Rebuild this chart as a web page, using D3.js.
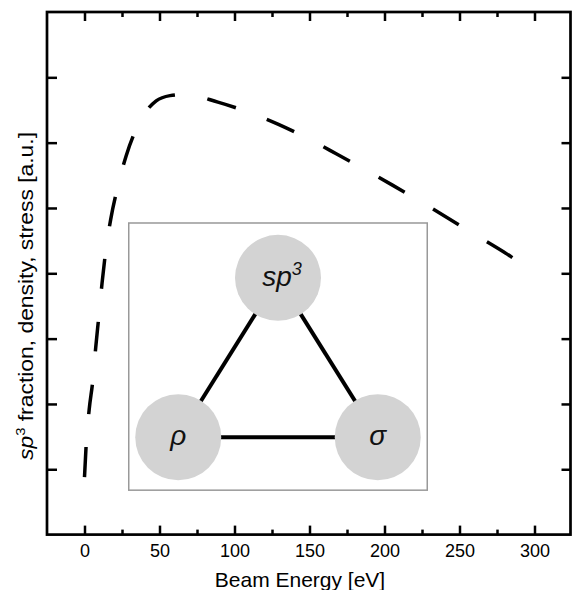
<!DOCTYPE html>
<html>
<head>
    <script src="https://cdnjs.cloudflare.com/ajax/libs/d3/7.8.5/d3.min.js"></script>
    <style>
        html, body { margin: 0; padding: 0; background: #fff; overflow: hidden; }
        svg { display: block; font-family: Arial, "Liberation Sans", sans-serif; }
        .tick line { stroke: #000; stroke-width: 2.5px; }
        .tick text { font-size: 18px; fill: #000; }
        .frame { fill: none; stroke: #000; stroke-width: 2.7px; }
        .curve { fill: none; stroke: #000; stroke-width: 3.5px; stroke-dasharray: 30 33; }
        .inset { fill: #fff; stroke: #999; stroke-width: 1.5px; }
        .bond { stroke: #000; stroke-width: 4px; }
        .bubble { fill: #d3d3d3; }
        .bubble-label { font-size: 28px; font-style: italic; fill: #111; }
    </style>
</head>
<body>
    <svg width="572" height="590"></svg>
    <script>
        // Data
        const energy = [0, 1.1, 3.1, 5.5, 7.5, 9.5, 11.7, 14.1, 17.5, 21.8, 27.8, 35.1, 47.8, 57, 67.6,
                        88.9, 108.9, 129.3, 148.3, 167.8, 186, 205.3, 223.8, 242.7, 259.8, 279.3, 296.7, 300];
        const signal = [0.88, 1.37, 1.91, 2.35, 2.87, 3.33, 3.85, 4.33, 4.83, 5.29, 5.80, 6.24, 6.64, 6.72, 6.74,
                        6.62, 6.47, 6.28, 6.07, 5.83, 5.60, 5.35, 5.10, 4.84, 4.60, 4.33, 4.07, 4.03];
        const xMajor = [0, 50, 100, 150, 200, 250, 300];
        const xMinor = [25, 75, 125, 175, 225, 275];
        const yTicks = [1, 2, 3, 4, 5, 6, 7];

        // inset triangle (in data units of the plot)
        const nodes = [
            { id: "sp3", label: "sp", sup: "3", e: 129, v: 3.93 },
            { id: "rho", label: "\u03C1", e: 62.5, v: 1.49 },
            { id: "sigma", label: "\u03C3", e: 195.5, v: 1.49 }
        ];
        const bonds = [["sp3", "rho"], ["sp3", "sigma"], ["rho", "sigma"]];
        const insetBox = { e0: 29.5, e1: 228.5, v0: 0.68, v1: 4.77 };

        const svg = d3.select("svg");
        const x = d3.scaleLinear().domain([-25, 324]).range([47, 570.5]);
        const y = d3.scaleLinear().domain([0, 8]).range([534.6, 12]);

        // Curve
        const pts = energy.map((e, i) => [e, signal[i]]);
        svg.append("path")
            .datum(pts)
            .attr("class", "curve")
            .attr("d", d3.line().x(d => x(d[0])).y(d => y(d[1])).curve(d3.curveMonotoneX));

        // Axes (ticks inward on all four sides)
        const yb = y(0), yt = y(8), xl = x(-25), xr = x(324);

        svg.append("g").attr("transform", `translate(0,${yb})`)
            .call(d3.axisBottom(x).tickValues(xMajor).tickSizeInner(-9).tickSizeOuter(0).tickPadding(10))
            .call(g => g.select(".domain").remove());
        svg.append("g").attr("transform", `translate(0,${yb})`)
            .call(d3.axisBottom(x).tickValues(xMinor).tickSizeInner(-5).tickSizeOuter(0).tickFormat(""))
            .call(g => g.select(".domain").remove());
        svg.append("g").attr("transform", `translate(0,${yt})`)
            .call(d3.axisTop(x).tickValues(xMajor).tickSizeInner(-9).tickSizeOuter(0).tickFormat(""))
            .call(g => g.select(".domain").remove());
        svg.append("g").attr("transform", `translate(0,${yt})`)
            .call(d3.axisTop(x).tickValues(xMinor).tickSizeInner(-5).tickSizeOuter(0).tickFormat(""))
            .call(g => g.select(".domain").remove());
        svg.append("g").attr("transform", `translate(${xl},0)`)
            .call(d3.axisLeft(y).tickValues(yTicks).tickSizeInner(-10).tickSizeOuter(0).tickFormat(""))
            .call(g => g.select(".domain").remove());
        svg.append("g").attr("transform", `translate(${xr},0)`)
            .call(d3.axisRight(y).tickValues(yTicks).tickSizeInner(-9).tickSizeOuter(0).tickFormat(""))
            .call(g => g.select(".domain").remove());

        svg.append("rect")
            .attr("class", "frame")
            .attr("x", xl).attr("y", yt)
            .attr("width", xr - xl).attr("height", yb - yt);

        // Axis titles
        svg.append("text")
            .attr("x", 300).attr("y", 587)
            .attr("text-anchor", "middle")
            .style("font-size", "21px")
            .text("Beam Energy [eV]");

        const yl = svg.append("text")
            .attr("transform", "translate(33,296) rotate(-90)")
            .attr("text-anchor", "middle")
            .attr("textLength", 328)
            .attr("lengthAdjust", "spacingAndGlyphs")
            .style("font-size", "20px");
        yl.append("tspan").style("font-style", "italic").text("sp");
        yl.append("tspan").attr("dy", -8).style("font-size", "13px").text("3");
        yl.append("tspan").attr("dy", 8).text(" fraction, density, stress [a.u.]");

        // Inset
        const inset = svg.append("g");
        inset.append("rect")
            .attr("class", "inset")
            .attr("x", x(insetBox.e0)).attr("y", y(insetBox.v1))
            .attr("width", x(insetBox.e1) - x(insetBox.e0))
            .attr("height", y(insetBox.v0) - y(insetBox.v1));

        const byId = Object.fromEntries(nodes.map(n => [n.id, n]));
        inset.selectAll("line")
            .data(bonds)
            .join("line")
            .attr("class", "bond")
            .attr("x1", d => x(byId[d[0]].e)).attr("y1", d => y(byId[d[0]].v))
            .attr("x2", d => x(byId[d[1]].e)).attr("y2", d => y(byId[d[1]].v));

        inset.selectAll("circle")
            .data(nodes)
            .join("circle")
            .attr("class", "bubble")
            .attr("cx", d => x(d.e)).attr("cy", d => y(d.v))
            .attr("r", 43);

        const lbl = inset.selectAll("text.bubble-label")
            .data(nodes)
            .join("text")
            .attr("class", "bubble-label")
            .attr("x", d => x(d.e) + (d.sup ? 4 : 0))
            .attr("y", d => y(d.v) + 8)
            .attr("text-anchor", "middle");
        lbl.append("tspan").text(d => d.label);
        lbl.filter(d => d.sup).append("tspan")
            .attr("dy", -11)
            .style("font-size", "18px")
            .text(d => d.sup);
    </script>
</body>
</html>
